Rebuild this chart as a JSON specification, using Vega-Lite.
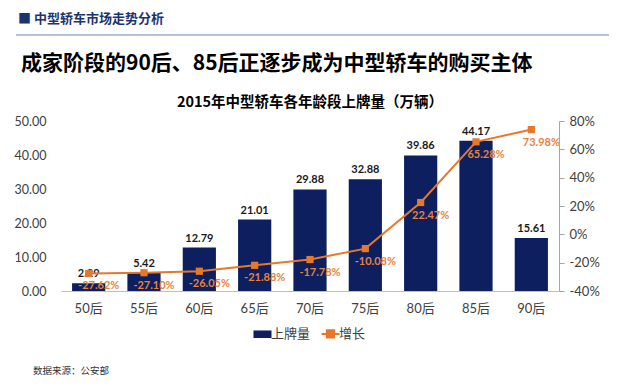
{
  "$schema": "https://vega.github.io/schema/vega-lite/v6.json",
  "background": "white",
  "padding": {"left": 14, "top": 13, "right": 10, "bottom": 5},
  "config": {
    "view": {"stroke": null},
    "font": "Lato, 'Noto Sans CJK SC'",
    "locale": {"number": {"decimal": ".", "thousands": ",", "grouping": [3], "currency": ["", ""], "minus": "-"}},
    "concat": {"spacing": 16}
  },
  "title": {
    "text": "■   中型轿车市场走势分析",
    "anchor": "start",
    "font": "Noto Sans CJK SC",
    "fontSize": 13,
    "fontWeight": "bold",
    "color": "#1B3370",
    "dx": 4,
    "offset": 7
  },
  "resolve": {"legend": {"color": "independent"}},
  "vconcat": [
    {
      "width": 548,
      "height": 2,
      "data": {"values": [{}]},
      "mark": {"type": "rule", "color": "#9BB2CE", "strokeWidth": 1.5},
      "encoding": {
        "x": {"datum": 0, "scale": {"domain": [0.0759, 1]}, "axis": null},
        "x2": {"datum": 1},
        "y": {"datum": 0, "scale": {"domain": [0, 1]}, "axis": null}
      }
    },
    {
      "width": 548,
      "height": 4,
      "data": {"values": [{}]},
      "title": {
        "text": "成家阶段的90后、85后正逐步成为中型轿车的购买主体",
        "anchor": "start",
        "frame": "group",
        "font": "Noto Sans CJK SC",
        "fontSize": 21,
        "fontWeight": "bold",
        "color": "#000000",
        "dx": -40,
        "offset": 0
      },
      "mark": {"type": "rule", "opacity": 0},
      "encoding": {}
    },
    {
      "width": 498,
      "height": 170,
      "title": {
        "text": "2015年中型轿车各年龄段上牌量（万辆）",
        "anchor": "middle",
        "frame": "group",
        "font": "Noto Sans CJK SC",
        "fontSize": 14.5,
        "fontWeight": "bold",
        "color": "#000000",
        "offset": 5
      },
      "data": {
        "values": [
          {"age": "50后", "上牌量": 2.29, "增长": -0.2762},
          {"age": "55后", "上牌量": 5.42, "增长": -0.2710},
          {"age": "60后", "上牌量": 12.79, "增长": -0.2605},
          {"age": "65后", "上牌量": 21.01, "增长": -0.2188},
          {"age": "70后", "上牌量": 29.88, "增长": -0.1778},
          {"age": "75后", "上牌量": 32.88, "增长": -0.1008},
          {"age": "80后", "上牌量": 39.86, "增长": 0.2247},
          {"age": "85后", "上牌量": 44.17, "增长": 0.6528},
          {"age": "90后", "上牌量": 15.61, "增长": 0.7398}
        ]
      },
      "encoding": {
        "x": {
          "field": "age",
          "type": "nominal",
          "sort": null,
          "scale": {"paddingInner": 0.4, "paddingOuter": 0.2},
          "axis": {
            "title": null,
            "labelAngle": 0,
            "labelFontSize": 13,
            "labelColor": "#404040",
            "labelFont": "Lato, 'Noto Sans CJK SC'",
            "labelPadding": 11,
            "ticks": false,
            "domainColor": "#BFBFBF",
            "domainWidth": 1
          }
        }
      },
      "layer": [
        {
          "encoding": {
            "y": {
              "field": "上牌量",
              "type": "quantitative",
              "scale": {"domain": [0, 50]},
              "axis": {
                "title": null,
                "values": [0, 10, 20, 30, 40, 50],
                "format": ".2f",
                "labelOverlap": false,
                "grid": false,
                "domain": false,
                "ticks": false,
                "labelPadding": 15,
                "labelFontSize": 12.5,
                "labelColor": "#404040"
              }
            }
          },
          "layer": [
            {
              "mark": {"type": "bar", "color": "#0D1F5E"},
              "encoding": {
                "color": {
                  "datum": "上牌量",
                  "type": "nominal",
                  "scale": {"domain": ["上牌量", "增长"], "range": ["#0D1F5E", "#E5782A"]},
                  "legend": {
                    "orient": "none",
                    "legendX": 195,
                    "legendY": 206,
                    "direction": "horizontal",
                    "title": null,
                    "labelFontSize": 13,
                    "labelColor": "#404040",
                    "labelFont": "Noto Sans CJK SC",
                    "labelOffset": 2,
                    "columnPadding": 6,
                    "symbolSize": 324,
                    "encode": {
                      "symbols": {
                        "update": {
                          "shape": {"signal": "datum.value === '上牌量' ? 'M-1,-0.42H1V0.42H-1Z' : 'M-1,0H1M-0.4,-0.4H0.4V0.4H-0.4Z'"},
                          "fill": {"signal": "datum.value === '上牌量' ? '#0D1F5E' : '#E5782A'"},
                          "stroke": {"signal": "datum.value === '上牌量' ? '#0D1F5E' : '#E5782A'"},
                          "strokeWidth": {"signal": "datum.value === '上牌量' ? 0 : 2"},
                          "opacity": {"value": 1},
                          "fillOpacity": {"value": 1}
                        }
                      }
                    }
                  }
                }
              }
            },
            {
              "mark": {"type": "text", "dy": -9, "fontSize": 11, "fontWeight": "bold", "color": "#1A1A1A", "font": "Lato"},
              "encoding": {
                "text": {"field": "上牌量", "type": "quantitative", "format": ".2f"}
              }
            }
          ]
        },
        {
          "encoding": {
            "y": {
              "field": "增长",
              "type": "quantitative",
              "scale": {"domain": [-0.4, 0.8]},
              "axis": {
                "title": null,
                "orient": "right",
                "values": [-0.4, -0.2, 0, 0.2, 0.4, 0.6, 0.8],
                "format": ".0%",
                "labelOverlap": false,
                "grid": false,
                "domainColor": "#A6A6A6",
                "tickColor": "#A6A6A6",
                "tickSize": 5,
                "labelPadding": 5,
                "labelFontSize": 13,
                "labelColor": "#404040"
              }
            }
          },
          "layer": [
            {
              "mark": {"type": "line", "color": "#E5782A", "strokeWidth": 2},
              "encoding": {
                "color": {"datum": "增长", "type": "nominal"}
              }
            },
            {
              "mark": {"type": "point", "shape": "square", "filled": true, "size": 52, "color": "#E5782A", "opacity": 1}
            },
            {
              "mark": {"type": "text", "dx": 10, "dy": 13, "fontSize": 11, "fontWeight": "bold", "color": "#E8823A", "font": "Lato"},
              "encoding": {
                "text": {"field": "增长", "type": "quantitative", "format": ".2%"}
              }
            }
          ]
        }
      ],
      "resolve": {"scale": {"y": "independent"}}
    },
    {
      "width": 548,
      "height": 1,
      "data": {"values": [{}]},
      "title": {
        "text": "数据来源：公安部",
        "anchor": "start",
        "frame": "group",
        "font": "Noto Sans CJK SC",
        "fontSize": 9.5,
        "fontWeight": "normal",
        "color": "#333333",
        "dx": -28,
        "dy": 17,
        "offset": 0
      },
      "mark": {"type": "rule", "opacity": 0},
      "encoding": {}
    }
  ]
}
